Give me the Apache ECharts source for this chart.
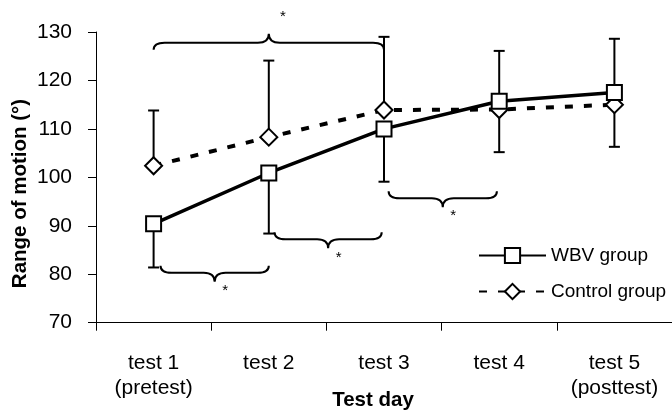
<!DOCTYPE html>
<html>
<head>
<meta charset="utf-8">
<script src="https://cdn.jsdelivr.net/npm/echarts@6/dist/echarts.min.js"></script>
<style>
html,body{margin:0;padding:0;background:#fff;}
#chart{width:672px;height:414px;}
</style>
</head>
<body>
<div id="chart"></div>
<script>
// ---- data ----
var categories = ['test 1\n(pretest)', 'test 2', 'test 3', 'test 4', 'test 5\n(posttest)'];
var wbvValues = [90.4, 100.9, 110.0, 115.7, 117.5];
var controlValues = [102.4, 108.3, 113.9, 114.0, 115.0];
// one-sided SD whisker end points
var wbvErrEnd = [81.4, 88.4, 99.1, 126.1, 128.6];
var controlErrEnd = [113.8, 124.1, 129.0, 105.2, 106.3];
// significance braces: [from category, to category, y value, direction (1 = tip down, -1 = tip up)]
var braces = [
  [0.0, 2.0, 127.8, -1],
  [0.06, 1.0, 80.3, 1],
  [1.05, 1.98, 87.2, 1],
  [2.04, 2.98, 95.7, 1]
];
var yTicks = {min: 70, max: 130, interval: 10};
var seriesNames = ['WBV group', 'Control group'];

var FONT = "'Liberation Sans', Arial, Helvetica, sans-serif";

function errData(vals, ends) {
  return vals.map(function (v, i) { return [i, v, ends[i]]; });
}

function renderErr(params, api) {
  var p0 = api.coord([api.value(0), api.value(1)]);
  var p1 = api.coord([api.value(0), api.value(2)]);
  var cw = 5.5;
  return {
    type: 'group',
    children: [
      {type: 'line', shape: {x1: p0[0], y1: p0[1], x2: p1[0], y2: p1[1]}, style: {stroke: '#000', lineWidth: 2}},
      {type: 'line', shape: {x1: p1[0] - cw, y1: p1[1], x2: p1[0] + cw, y2: p1[1]}, style: {stroke: '#000', lineWidth: 2}}
    ]
  };
}

function renderBrace(params, api) {
  var bandW = api.size([1, 0])[0];
  var c0 = api.coord([0, api.value(2)]);
  var xa = c0[0] + api.value(0) * bandW;
  var xb = c0[0] + api.value(1) * bandW;
  var y = c0[1];
  var d = api.value(3);
  var h1 = 7, h2 = 9, r = 11;
  var xm = (xa + xb) / 2;
  var path = 'M' + xa + ' ' + (y - d * h1) +
    ' Q' + xa + ' ' + y + ' ' + (xa + r) + ' ' + y +
    ' L' + (xm - r) + ' ' + y +
    ' Q' + xm + ' ' + y + ' ' + xm + ' ' + (y + d * h2) +
    ' Q' + xm + ' ' + y + ' ' + (xm + r) + ' ' + y +
    ' L' + (xb - r) + ' ' + y +
    ' Q' + xb + ' ' + y + ' ' + xb + ' ' + (y - d * h1);
  var tx = d > 0 ? xm + 10.5 : xm + 14;
  var ty = d > 0 ? y + d * h2 + 9 : y + d * h2 - 17;
  return {
    type: 'group',
    children: [
      {type: 'path', shape: {pathData: path}, style: {stroke: '#000', lineWidth: 2, fill: null}},
      {type: 'text', x: tx, y: ty, style: {text: '*', fill: '#000', font: '15px ' + FONT, align: 'center', verticalAlign: 'middle'}}
    ]
  };
}

var chart = echarts.init(document.getElementById('chart'), null, {renderer: 'canvas'});
chart.setOption({
  animation: false,
  backgroundColor: '#fff',
  grid: {left: 96, right: -7, top: 32, bottom: 91.3, containLabel: false},
  legend: {
    orient: 'vertical',
    left: 473, top: 241,
    itemWidth: 67, itemHeight: 19, itemGap: 17,
    textStyle: {fontFamily: FONT, fontSize: 19, color: '#000'},
    data: seriesNames
  },
  xAxis: {
    type: 'category',
    data: categories,
    boundaryGap: true,
    axisLine: {lineStyle: {color: '#000', width: 1}},
    axisTick: {show: true, length: 8, interval: 0, lineStyle: {color: '#000'}},
    axisLabel: {fontFamily: FONT, fontSize: 21, color: '#000', margin: 28, lineHeight: 25, interval: 0},
    splitLine: {show: false}
  },
  yAxis: {
    type: 'value',
    min: yTicks.min, max: yTicks.max, interval: yTicks.interval,
    axisLine: {show: true, lineStyle: {color: '#000', width: 1}},
    axisTick: {show: true, length: 8, lineStyle: {color: '#000'}},
    axisLabel: {fontFamily: FONT, fontSize: 21, color: '#000', margin: 24},
    splitLine: {show: false}
  },
  graphic: [
    {type: 'text', x: 20, y: 193.5, rotation: Math.PI / 2,
     style: {text: 'Range of motion (°)', font: 'bold 20.5px ' + FONT, fill: '#000', align: 'center', verticalAlign: 'middle'}},
    {type: 'text', x: 373, y: 400,
     style: {text: 'Test day', font: 'bold 20.5px ' + FONT, fill: '#000', align: 'center', verticalAlign: 'middle'}}
  ],
  series: [
    {type: 'custom', name: 'wbvErr', renderItem: renderErr, data: errData(wbvValues, wbvErrEnd),
     encode: {x: 0, y: [1, 2]}, z: 1, silent: true},
    {type: 'custom', name: 'ctrlErr', renderItem: renderErr, data: errData(controlValues, controlErrEnd),
     encode: {x: 0, y: [1, 2]}, z: 1, silent: true},
    {type: 'custom', name: 'braces', renderItem: renderBrace, data: braces,
     encode: {x: [0, 1], y: 2}, z: 1, silent: true, clip: false},
    {type: 'line', name: seriesNames[1], data: controlValues,
     symbol: 'diamond', symbolSize: [17, 17],
     lineStyle: {color: '#000', width: 4, type: [8, 11]},
     itemStyle: {color: '#fff', borderColor: '#000', borderWidth: 2},
     z: 3},
    {type: 'line', name: seriesNames[0], data: wbvValues,
     symbol: 'rect', symbolSize: [15, 15],
     lineStyle: {color: '#000', width: 3.5, type: 'solid'},
     itemStyle: {color: '#fff', borderColor: '#000', borderWidth: 2},
     z: 4}
  ]
});
</script>
</body>
</html>
